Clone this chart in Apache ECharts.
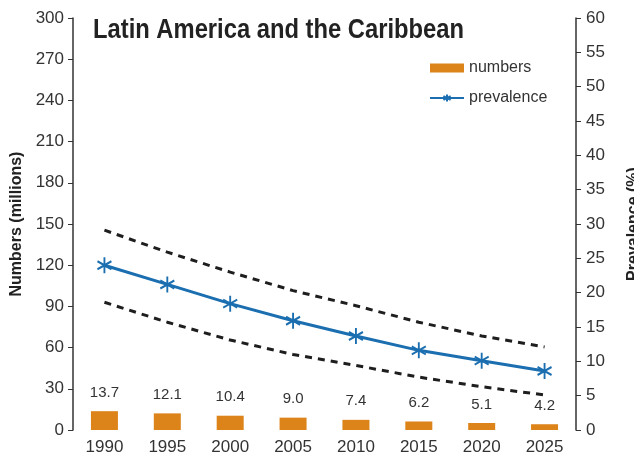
<!DOCTYPE html>
<html>
<head>
<meta charset="utf-8">
<script src="https://cdn.jsdelivr.net/npm/echarts@6/dist/echarts.min.js"></script>
<style>html,body{margin:0;padding:0;background:#fff}#c{width:634px;height:460px}</style>
</head>
<body>
<div id="c"></div>
<script>
var years = ['1990','1995','2000','2005','2010','2015','2020','2025'];
var numbers = [13.7, 12.1, 10.4, 9.0, 7.4, 6.2, 5.1, 4.2];
var prevalence = [24.0, 21.2, 18.4, 15.9, 13.7, 11.6, 10.1, 8.6];
var upperBound = [29.1, 25.9, 23.0, 20.3, 18.1, 15.7, 13.7, 12.1];
var lowerBound = [18.6, 15.7, 13.1, 11.0, 9.4, 7.7, 6.3, 5.1];
var leftTicks = {min: 0, max: 300, interval: 30};
var rightTicks = {min: 0, max: 60, interval: 5};
var titleText = 'Latin America and the Caribbean';

var star = 'path://M0,-10L0,10M-8.66,-5L8.66,5M-8.66,5L8.66,-5';
var blue = '#1b6fb0';
var orange = '#dc831a';
var txt = '#333333';

var chart = echarts.init(document.getElementById('c'));
chart.setOption({
  animation: false,
  graphic: [{
    type: 'text', left: 93, top: 17, scaleX: 0.88, originX: 0,
    style: {text: titleText, font: 'bold 27px "Liberation Sans", Arial, sans-serif', fill: '#222'}
  }],
  legend: {
    orient: 'vertical', left: 424, top: 55, itemWidth: 34, itemHeight: 9, itemGap: 14,
    data: [{name: 'numbers', icon: 'rect'}, {name: 'prevalence'}],
    textStyle: {fontFamily: 'Liberation Sans', fontSize: 16, color: txt}
  },
  grid: {left: 73, right: 58, top: 18, bottom: 30, containLabel: false, outerBoundsMode: 'none'},
  xAxis: {
    type: 'category', data: years,
    axisLine: {show: false}, axisTick: {show: false},
    axisLabel: {fontFamily: 'Liberation Sans', fontSize: 17, color: txt, margin: 9}
  },
  yAxis: [{
    type: 'value', min: leftTicks.min, max: leftTicks.max, interval: leftTicks.interval,
    name: 'Numbers (millions)', nameLocation: 'middle', nameGap: 45, nameRotate: 90,
    nameTextStyle: {fontFamily: 'Liberation Sans', fontWeight: 'bold', fontSize: 16, color: '#222'},
    axisLine: {show: true, lineStyle: {color: '#333', width: 1.5}},
    axisTick: {show: true, length: 5, lineStyle: {color: '#333'}},
    axisLabel: {fontFamily: 'Liberation Sans', fontSize: 17, color: txt, margin: 9},
    splitLine: {show: false}
  }, {
    type: 'value', min: rightTicks.min, max: rightTicks.max, interval: rightTicks.interval,
    position: 'right',
    name: 'Prevalence (%)', nameLocation: 'middle', nameGap: 50, nameRotate: 90,
    nameTextStyle: {fontFamily: 'Liberation Sans', fontWeight: 'bold', fontSize: 16, color: '#222'},
    axisLine: {show: true, lineStyle: {color: '#333', width: 1.5}},
    axisTick: {show: true, length: 5, lineStyle: {color: '#333'}},
    axisLabel: {fontFamily: 'Liberation Sans', fontSize: 17, color: txt, margin: 10},
    splitLine: {show: false}
  }],
  series: [{
    name: 'numbers', type: 'bar', data: numbers, barWidth: 27, yAxisIndex: 0,
    itemStyle: {color: orange},
    label: {show: true, position: 'top', distance: 11, fontFamily: 'Liberation Sans', fontSize: 15, color: txt,
      formatter: function (p) { return p.value.toFixed(1); }}
  }, {
    name: 'upper', type: 'line', data: upperBound, yAxisIndex: 1, symbol: 'none', silent: true,
    lineStyle: {color: '#1e1e1e', width: 3, type: [7, 6]}
  }, {
    name: 'lower', type: 'line', data: lowerBound, yAxisIndex: 1, symbol: 'none', silent: true,
    lineStyle: {color: '#1e1e1e', width: 3, type: [7, 6]}
  }, {
    name: 'prevalence', type: 'line', data: prevalence, yAxisIndex: 1,
    symbol: star, symbolSize: [14, 16],
    itemStyle: {color: blue, borderColor: blue, borderWidth: 2},
    lineStyle: {color: blue, width: 3}
  }]
});
</script>
</body>
</html>
